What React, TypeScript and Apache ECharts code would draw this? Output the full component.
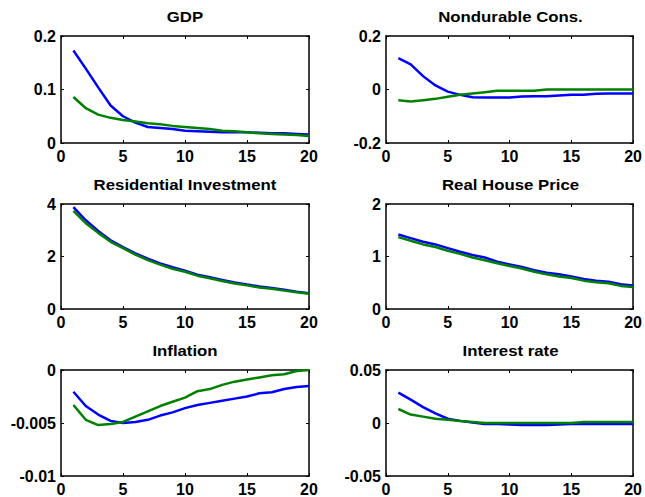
import React, { useEffect, useRef } from "react";
import * as echarts from "echarts";

// Impulse horizon (quarters)
const periods = [1, 2, 3, 4, 5, 6, 7, 8, 9, 10, 11, 12, 13, 14, 15, 16, 17, 18, 19, 20];
const xTicks = [0, 5, 10, 15, 20];

const panelTitles = [
  "GDP",
  "Nondurable Cons.",
  "Residential Investment",
  "Real House Price",
  "Inflation",
  "Interest rate",
];

// y-axis ranges per panel: [min, max, interval]
const yRanges: [number, number, number][] = [
  [0, 0.2, 0.1],
  [-0.2, 0.2, 0.2],
  [0, 4, 2],
  [0, 2, 1],
  [-0.01, 0, 0.005],
  [-0.05, 0.05, 0.05],
];

// Blue responses
const gdpBlue = [0.173, 0.139, 0.104, 0.07, 0.05, 0.038, 0.03, 0.028, 0.026, 0.023, 0.022, 0.021, 0.02, 0.02, 0.02, 0.019, 0.018, 0.018, 0.017, 0.016];
const consBlue = [0.117, 0.094, 0.05, 0.015, -0.008, -0.02, -0.029, -0.03, -0.03, -0.03, -0.026, -0.025, -0.025, -0.022, -0.02, -0.02, -0.016, -0.015, -0.015, -0.015];
const resInvBlue = [3.88, 3.38, 2.97, 2.62, 2.36, 2.12, 1.92, 1.74, 1.59, 1.46, 1.31, 1.21, 1.11, 1.01, 0.93, 0.86, 0.8, 0.73, 0.66, 0.6];
const housePriceBlue = [1.42, 1.35, 1.28, 1.23, 1.16, 1.09, 1.03, 0.98, 0.9, 0.85, 0.8, 0.74, 0.69, 0.66, 0.62, 0.57, 0.54, 0.52, 0.47, 0.45];
const inflationBlue = [-0.00205, -0.0034, -0.0042, -0.0048, -0.005, -0.0049, -0.0047, -0.0043, -0.004, -0.0036, -0.0033, -0.0031, -0.0029, -0.0027, -0.0025, -0.0022, -0.0021, -0.0018, -0.0016, -0.0015];
const interestBlue = [0.0286, 0.022, 0.015, 0.009, 0.004, 0.002, 0.0005, -0.001, -0.001, -0.0015, -0.002, -0.002, -0.002, -0.0015, -0.001, -0.001, -0.001, -0.001, -0.001, -0.001];

// Green responses
const gdpGreen = [0.086, 0.065, 0.053, 0.047, 0.043, 0.04, 0.037, 0.035, 0.032, 0.03, 0.028, 0.026, 0.023, 0.022, 0.02, 0.018, 0.017, 0.016, 0.015, 0.013];
const consGreen = [-0.04, -0.045, -0.04, -0.035, -0.027, -0.02, -0.015, -0.01, -0.005, -0.005, -0.005, -0.005, 0, 0, 0, 0, 0, 0, 0, 0];
const resInvGreen = [3.74, 3.27, 2.9, 2.56, 2.32, 2.07, 1.86, 1.69, 1.53, 1.42, 1.27, 1.17, 1.07, 0.97, 0.9, 0.82, 0.77, 0.7, 0.64, 0.58];
const housePriceGreen = [1.37, 1.3, 1.23, 1.18, 1.11, 1.05, 0.98, 0.93, 0.87, 0.82, 0.77, 0.71, 0.66, 0.62, 0.59, 0.54, 0.51, 0.49, 0.44, 0.42];
const inflationGreen = [-0.0033, -0.0047, -0.0052, -0.0051, -0.0049, -0.0044, -0.0039, -0.0034, -0.003, -0.0026, -0.002, -0.0018, -0.0014, -0.0011, -0.0009, -0.0007, -0.0005, -0.0004, -0.0001, 0];
const interestGreen = [0.0132, 0.008, 0.006, 0.004, 0.003, 0.002, 0.001, 0, 0, 0, 0, 0, 0, 0, 0, 0.001, 0.001, 0.001, 0.001, 0.001];

const blueSeries = [gdpBlue, consBlue, resInvBlue, housePriceBlue, inflationBlue, interestBlue];
const greenSeries = [gdpGreen, consGreen, resInvGreen, housePriceGreen, inflationGreen, interestGreen];

const FONT = "'Liberation Sans', Arial, Helvetica, sans-serif";
const colLeft = [61, 386];
const colWidth = [248, 249];
const rowTop = [36, 204, 370];
const rowHeight = [107, 105, 106];

export default function App() {
  const ref = useRef<HTMLDivElement>(null);

  useEffect(() => {
    if (!ref.current) return;
    const chart = echarts.init(ref.current, null, { renderer: "svg" });

    const grids: any[] = [];
    const xAxes: any[] = [];
    const yAxes: any[] = [];
    const series: any[] = [];
    const graphics: any[] = [];

    const axisLine = { show: true, onZero: false, lineStyle: { color: "#000", width: 1.5 } };
    const axisTick = { show: true, inside: true, length: 3, lineStyle: { color: "#000", width: 1 } };
    const labelStyle = { color: "#000", fontFamily: FONT, fontWeight: "bold" as const, fontSize: 16 };

    panelTitles.forEach((title, i) => {
      const col = i % 2;
      const row = Math.floor(i / 2);
      const left = colLeft[col];
      const top = rowTop[row];
      const width = colWidth[col];
      const height = rowHeight[row];
      const [yMin, yMax, yInt] = yRanges[i];

      grids.push({ left, top, width, height, containLabel: false });

      // bottom axis with labels, top axis for the box edge
      xAxes.push({
        type: "value",
        gridIndex: i,
        position: "bottom",
        min: xTicks[0],
        max: xTicks[xTicks.length - 1],
        interval: 5,
        axisLine,
        axisTick,
        splitLine: { show: false },
        axisLabel: { ...labelStyle, margin: 5 },
      });
      xAxes.push({
        type: "value",
        gridIndex: i,
        position: "top",
        min: xTicks[0],
        max: xTicks[xTicks.length - 1],
        interval: 5,
        axisLine,
        axisTick,
        splitLine: { show: false },
        axisLabel: { show: false },
      });

      yAxes.push({
        type: "value",
        gridIndex: i,
        position: "left",
        min: yMin,
        max: yMax,
        interval: yInt,
        axisLine,
        axisTick,
        splitLine: { show: false },
        axisLabel: { ...labelStyle, margin: 5 },
      });
      yAxes.push({
        type: "value",
        gridIndex: i,
        position: "right",
        min: yMin,
        max: yMax,
        interval: yInt,
        axisLine,
        axisTick,
        splitLine: { show: false },
        axisLabel: { show: false },
      });

      const mk = (vals: number[], color: string) => ({
        type: "line",
        xAxisIndex: i * 2,
        yAxisIndex: i * 2,
        data: periods.map((p, k) => [p, vals[k]]),
        showSymbol: false,
        symbol: "none",
        lineStyle: { color, width: 2.5 },
        itemStyle: { color },
        silent: true,
      });
      series.push(mk(blueSeries[i], "#0000ff"));
      series.push(mk(greenSeries[i], "#008000"));

      // panel title, slightly widened like the exported figure's lettering
      graphics.push({
        type: "text",
        x: left + width / 2,
        y: top - 19,
        scaleX: 1.12,
        originX: 0,
        originY: 0,
        style: {
          text: title,
          fill: "#000",
          font: `bold 15px ${FONT}`,
          textAlign: "center",
          textVerticalAlign: "middle",
        },
      });
    });

    chart.setOption({
      animation: false,
      backgroundColor: "#fff",
      grid: grids,
      xAxis: xAxes,
      yAxis: yAxes,
      series,
      graphic: graphics,
    });

    return () => chart.dispose();
  }, []);

  return (
    <div
      ref={ref}
      style={{ position: "absolute", left: 0, top: 0, width: 645, height: 497, background: "#fff" }}
    />
  );
}
